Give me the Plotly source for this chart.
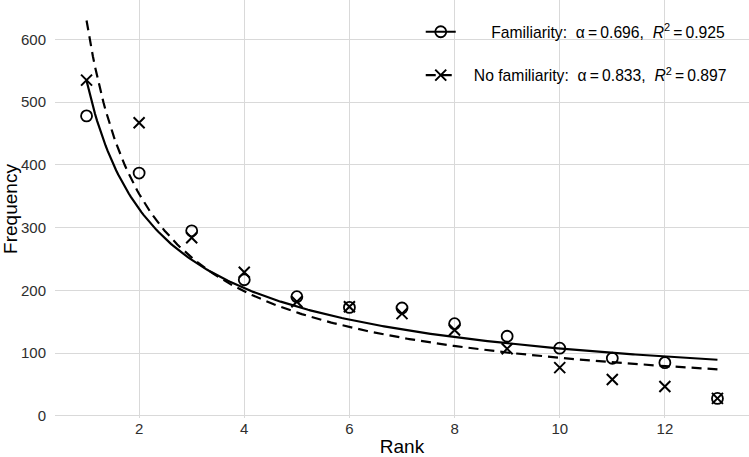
import numpy as np
import plotly.graph_objects as go

# ---- data ----
ranks = list(range(1, 14))
familiarity = [478, 387, 295, 217, 190, 173, 172, 147, 127, 108, 92, 85, 28]
no_familiarity = [535, 467, 284, 229, 182, 174, 163, 137, 107, 77, 58, 47, 28]

# power-law fits  y = C * rank^(-alpha)
fam_alpha, fam_coef, fam_r2 = 0.696, 534, 0.925
nofam_alpha, nofam_coef, nofam_r2 = 0.833, 630, 0.897

x_ticks = [2, 4, 6, 8, 10, 12]
y_ticks = [0, 100, 200, 300, 400, 500, 600]

FONT = "Liberation Sans, Arial, sans-serif"
NB = "\u00a0"

xfit = np.linspace(min(ranks), max(ranks), 300)
fam_fit = fam_coef * xfit ** (-fam_alpha)
nofam_fit = nofam_coef * xfit ** (-nofam_alpha)

fam_label = (NB * 7 + "Familiarity:" + NB * 2 + "\u03b1\u2009=\u20090.696," + NB * 2 +
             "<i>R</i><sup>2</sup>\u2009=\u20090.925")
nofam_label = (NB * 3 + "No familiarity:" + NB * 2 + "\u03b1\u2009=\u20090.833," + NB * 2 +
               "<i>R</i><sup>2</sup>\u2009=\u20090.897")

LW = 2.2
DASH = "10px,6px"

fig = go.Figure()

fig.add_trace(go.Scatter(x=xfit, y=fam_fit, mode="lines",
                         line=dict(color="black", width=LW), showlegend=False, hoverinfo="skip"))
fig.add_trace(go.Scatter(x=xfit, y=nofam_fit, mode="lines",
                         line=dict(color="black", width=LW, dash=DASH), showlegend=False, hoverinfo="skip"))
fig.add_trace(go.Scatter(x=ranks, y=familiarity, mode="markers",
                         marker=dict(symbol="circle-open", size=11, color="black", line=dict(width=1.8)),
                         showlegend=False))
fig.add_trace(go.Scatter(x=ranks, y=no_familiarity, mode="markers",
                         marker=dict(symbol="x-thin-open", size=11, color="black", line=dict(width=2)),
                         showlegend=False))

# legend entries
fig.add_trace(go.Scatter(x=[None], y=[None], mode="lines+markers", name=fam_label, legendgroup="a",
                         line=dict(color="black", width=LW),
                         marker=dict(symbol="circle-open", size=11, color="black", line=dict(width=1.8))))
fig.add_trace(go.Scatter(x=[None], y=[None], mode="lines+markers", name=nofam_label, legendgroup="b",
                         line=dict(color="black", width=LW, dash=DASH),
                         marker=dict(symbol="x-thin-open", size=11, color="black", line=dict(width=2))))

fig.update_layout(
    width=749, height=457,
    margin=dict(l=55, r=0, t=0, b=39),
    paper_bgcolor="white", plot_bgcolor="white",
    font=dict(family=FONT, color="black"),
    legend=dict(x=0.527, y=0.964, xanchor="left", yanchor="top",
                bgcolor="rgba(0,0,0,0)", font=dict(size=15.7, family=FONT, color="black"),
                tracegroupgap=20, itemwidth=30),
    xaxis=dict(range=[0.4, 13.6], tickvals=x_ticks, showgrid=True, gridcolor="#d9d9d9", gridwidth=1.3,
               zeroline=False, showline=False, ticks="", automargin=False,
               tickfont=dict(size=15, color="#2e2e2e", family=FONT),
               title=dict(text="Rank", font=dict(size=19, color="black", family=FONT), standoff=9)),
    yaxis=dict(range=[-3.2, 662.6], tickvals=y_ticks, showgrid=True, gridcolor="#d9d9d9", gridwidth=1.3,
               zeroline=False, showline=False, ticks="", automargin=False, ticklabelstandoff=8,
               tickfont=dict(size=15, color="#2e2e2e", family=FONT),
               title=dict(text="Frequency", font=dict(size=19, color="black", family=FONT), standoff=5)),
)

# remove the browser's default 8px page margin so the figure fills the window exactly
fig.write_html("out.html", config={"displayModeBar": False},
               post_script="document.body.style.margin='0';")
